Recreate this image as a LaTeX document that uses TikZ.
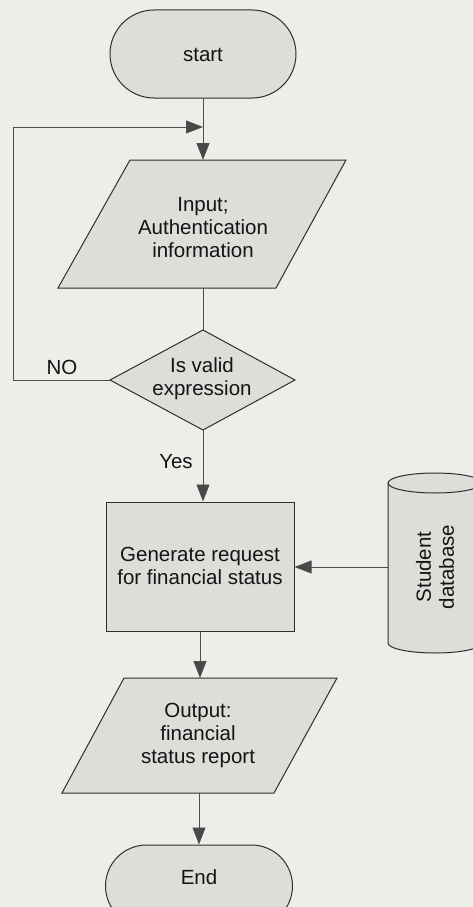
\documentclass[tikz,border=0pt]{standalone}
\usepackage{fontspec}
\setmainfont{Liberation Sans}
\usetikzlibrary{shapes.geometric,shapes.misc,arrows.meta}
\definecolor{bgc}{HTML}{EDEDEA}
\definecolor{shc}{HTML}{DDDDDA}
\definecolor{lnc}{HTML}{2E2E2E}
\definecolor{tipc}{HTML}{484848}
\begin{document}
\begin{tikzpicture}[x=1pt,y=1pt,
  shp/.style={draw=lnc,line width=1pt,fill=shc,inner sep=1pt},
  term/.style={shp,rounded rectangle},
  proc/.style={shp,rectangle},
  txt/.style={align=center,font=\fontsize{20.5}{23}\selectfont,text=black!92,inner sep=0pt},
  conn/.style={draw=lnc!85,line width=0.9pt},
  arr/.style={conn,-{Triangle[length=17pt,width=13pt,fill=tipc]}},
]
\useasboundingbox[fill=bgc] (0,0) rectangle (473,-907);
\clip (0,0) rectangle (473,-907);

% start
\node[term,minimum width=188pt,minimum height=88pt] (start) at (203,-54) {};
\node[txt] (startT) at (203,-55) {start};

% input parallelogram
\coordinate (inN) at (203,-160);
\coordinate (inS) at (203,-288);
\path[shp] (130,-160) -- (346,-160) -- (276,-288) -- (58,-288) -- cycle;
\node[txt] (inT) at (203,-228) {Input;\\Authentication\\information};

% decision diamond
\coordinate (decN) at (203,-330);
\coordinate (decS) at (203,-430);
\coordinate (decW) at (110,-380);
\path[shp] (decN) -- (295,-380) -- (decS) -- (decW) -- cycle;
\node[txt] (decT) at (202,-379) {Is valid\\expression};

% process
\node[proc,minimum width=188pt,minimum height=129pt] (gen) at (200,-566.5) {};
\node[txt] (genT) at (200,-566) {Generate request\\for financial status};

% output parallelogram
\coordinate (outN) at (200,-678);
\coordinate (outS) at (199,-793);
\path[shp] (124,-678) -- (337,-678) -- (274,-793) -- (62,-793) -- cycle;
\node[txt] (outT) at (198,-735) {Output:\\financial\\status report};

% end
\node[term,minimum width=189pt,minimum height=82pt] (end) at (199,-886) {};
\node[txt] (endT) at (199,-877) {End};

% database cylinder
\path[shp] (388,-483) -- (388,-643)
  arc[start angle=180,end angle=360,x radius=47pt,y radius=10pt]
  -- (482,-483)
  arc[start angle=0,end angle=180,x radius=47pt,y radius=10pt] -- cycle;
\draw[draw=lnc,line width=1pt] (388,-483)
  arc[start angle=180,end angle=360,x radius=47pt,y radius=10pt];
\coordinate (dbW) at (388,-567);
\node[txt,rotate=90] (dbT) at (435,-567) {Student\\database};

% connectors
\coordinate (merge) at (203,-127);
\coordinate (loopTL) at (13,-127);
\draw[conn] (start.south) -- (merge);
\draw[arr] (merge) -- (inN);
\draw[arr] (decW) -| (loopTL) -- (merge);
\draw[conn] (inS) -- (decN);
\draw[arr] (decS) -- (decS |- gen.north);
\draw[arr] (dbW) -- (dbW -| gen.east);
\draw[arr] (gen.south) -- (outN);
\draw[arr] (outS) -- (outS |- end.north);

% labels
\node[txt] (no) at (62,-367) {NO};
\node[txt] (yes) at (176,-462) {Yes};
\end{tikzpicture}
\end{document}
